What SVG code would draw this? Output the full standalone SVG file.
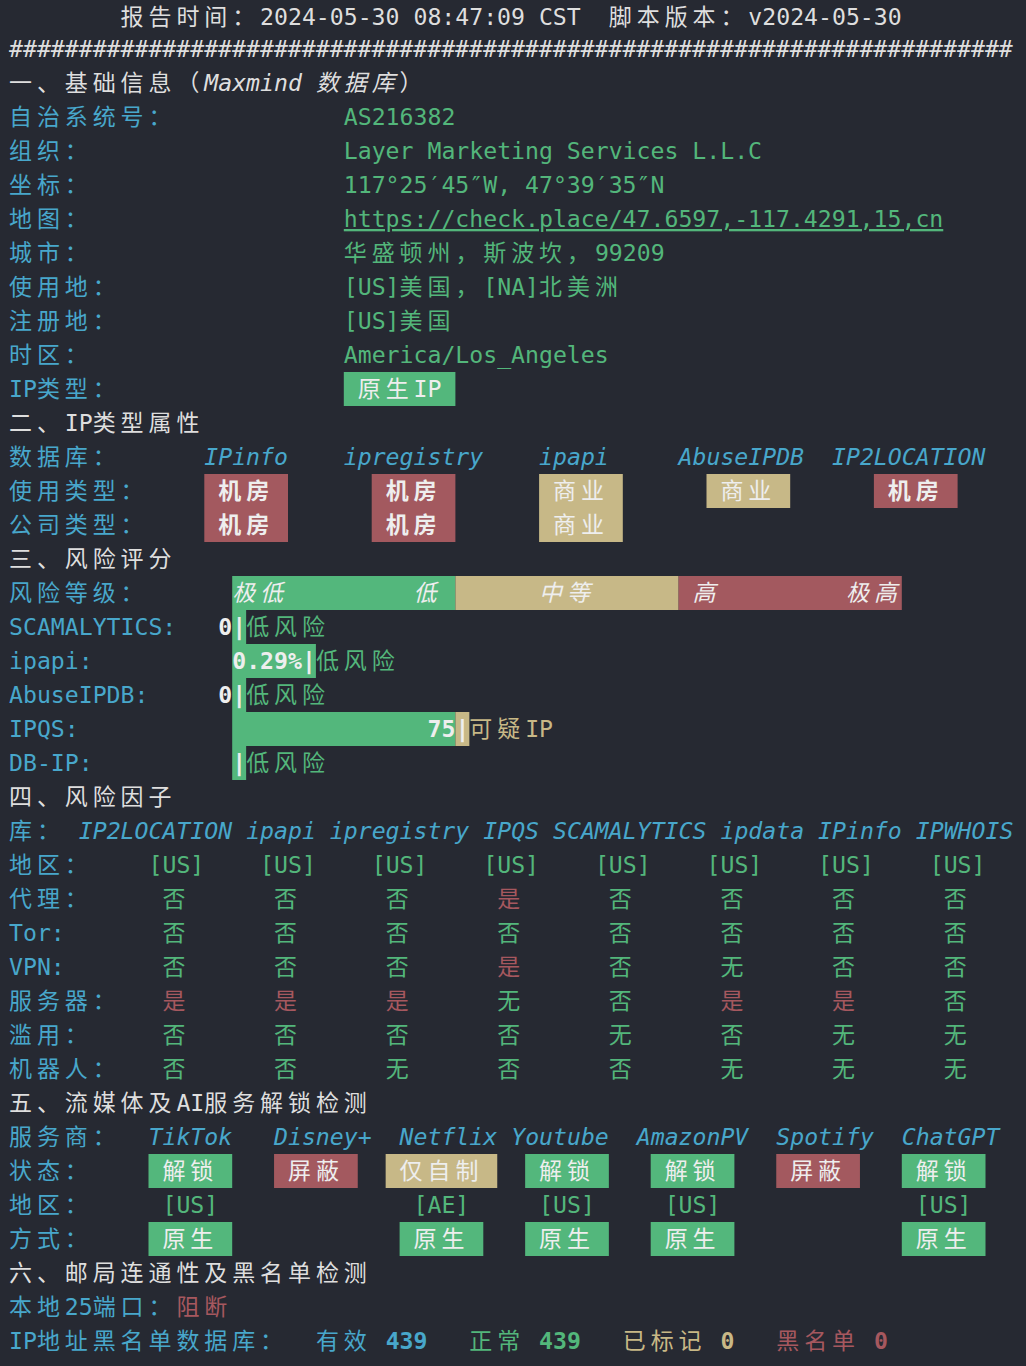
<svg xmlns="http://www.w3.org/2000/svg" width="1026" height="1366" viewBox="0 0 1026 1366">
<style>
.L{font-family:"DejaVu Sans Mono","Liberation Mono",monospace;font-size:23.17px}
.C{font-family:"Noto Sans CJK SC","Noto Sans",sans-serif;font-size:23px;letter-spacing:4.9px}
.i{font-style:italic}
.b{font-weight:bold}
.w{fill:#dedede}
.cy{fill:#48a7cb}
.g{fill:#53b67b}
.r{fill:#a6585f}
.y{fill:#c8b886}
.bt{fill:#eeeeee}
.bg{fill:#53b77c}
.br{fill:#a3595f}
.by{fill:#c7b887}
</style>
<rect width="1026" height="1366" fill="#262932"/>

<g id="header">
<text class="w" y="25"><tspan class="C" x="120.6">报告时间：</tspan><tspan class="L" x="260.1">2024-05-30 08:47:09 CST</tspan><tspan class="C" x="608.85">脚本版本：</tspan><tspan class="L" x="748.35">v2024-05-30</tspan></text>
<text class="L w" x="9" y="57">########################################################################</text>
</g>

<g id="basic">
<text class="w" y="91"><tspan class="C" x="9">一、基础信息（</tspan><tspan class="L i" x="204.3">Maxmind</tspan><tspan class="C i" x="315.9">数据库</tspan><tspan class="C" x="399.6">）</tspan></text>
<text class="C cy" x="9" y="125">自治系统号：</text>
<text class="L g" x="343.8" y="125">AS216382</text>
<text class="C cy" x="9" y="159">组织：</text>
<text class="L g" x="343.8" y="159">Layer Marketing Services L.L.C</text>
<text class="C cy" x="9" y="193">坐标：</text>
<text class="L g" x="343.8" y="193">117°25′45″W, 47°39′35″N</text>
<text class="C cy" x="9" y="227">地图：</text>
<text class="L g" x="343.8" y="227" text-decoration="underline">https://check.place/47.6597,-117.4291,15,cn</text>
<text class="C cy" x="9" y="261">城市：</text>
<text class="g" y="261"><tspan class="C" x="343.8">华盛顿州，斯波坎，</tspan><tspan class="L" x="594.9">99209</tspan></text>
<text class="C cy" x="9" y="295">使用地：</text>
<text class="g" y="295"><tspan class="L" x="343.8">[US]</tspan><tspan class="C" x="399.6">美国，</tspan><tspan class="L" x="483.3">[NA]</tspan><tspan class="C" x="539.1">北美洲</tspan></text>
<text class="C cy" x="9" y="329">注册地：</text>
<text class="g" y="329"><tspan class="L" x="343.8">[US]</tspan><tspan class="C" x="399.6">美国</tspan></text>
<text class="C cy" x="9" y="363">时区：</text>
<text class="L g" x="343.8" y="363">America/Los_Angeles</text>
<text class="cy" y="397"><tspan class="L" x="9">IP</tspan><tspan class="C" x="36.9">类型：</tspan></text>
<rect class="bg" x="343.8" y="372" width="111.6" height="34"/>
<text class="bt" y="397"><tspan class="C" x="357.75">原生</tspan><tspan class="L" x="413.55">IP</tspan></text>
</g>

<g id="iptype">
<text class="w" y="431"><tspan class="C" x="9">二、</tspan><tspan class="L" x="64.8">IP</tspan><tspan class="C" x="92.7">类型属性</tspan></text>
<text class="C cy" x="9" y="465">数据库：</text>
<text class="L i cy" x="204.3" y="465">IPinfo</text>
<text class="L i cy" x="343.8" y="465">ipregistry</text>
<text class="L i cy" x="539.1" y="465">ipapi</text>
<text class="L i cy" x="678.6" y="465">AbuseIPDB</text>
<text class="L i cy" x="832.05" y="465">IP2LOCATION</text>
<text class="C cy" x="9" y="499">使用类型：</text>
<rect class="br" x="204.3" y="474" width="83.7" height="34"/>
<rect class="br" x="371.7" y="474" width="83.7" height="34"/>
<rect class="by" x="539.1" y="474" width="83.7" height="34"/>
<rect class="by" x="706.5" y="474" width="83.7" height="34"/>
<rect class="br" x="873.9" y="474" width="83.7" height="34"/>
<text class="C b bt" x="218.25" y="499">机房</text>
<text class="C b bt" x="385.65" y="499">机房</text>
<text class="C bt" x="553.05" y="499">商业</text>
<text class="C bt" x="720.45" y="499">商业</text>
<text class="C b bt" x="887.85" y="499">机房</text>
<text class="C cy" x="9" y="533">公司类型：</text>
<rect class="br" x="204.3" y="508" width="83.7" height="34"/>
<rect class="br" x="371.7" y="508" width="83.7" height="34"/>
<rect class="by" x="539.1" y="508" width="83.7" height="34"/>
<text class="C b bt" x="218.25" y="533">机房</text>
<text class="C b bt" x="385.65" y="533">机房</text>
<text class="C bt" x="553.05" y="533">商业</text>
</g>

<g id="risk">
<text class="C w" x="9" y="567">三、风险评分</text>
<text class="C cy" x="9" y="601">风险等级：</text>
<rect class="bg" x="232.2" y="576" width="223.2" height="34"/>
<rect class="by" x="455.4" y="576" width="223.2" height="34"/>
<rect class="br" x="678.6" y="576" width="223.2" height="34"/>
<text class="C i bt" x="232.2" y="601">极低</text>
<text class="C i bt" x="413.55" y="601">低</text>
<text class="C i bt" x="539.1" y="601">中等</text>
<text class="C i bt" x="692.55" y="601">高</text>
<text class="C i bt" x="846" y="601">极高</text>

<text class="L cy" x="9" y="635">SCAMALYTICS:</text>
<rect class="bg" x="232.2" y="610" width="13.95" height="34"/>
<text class="L b bt" x="218.25" y="635">0|</text>
<text class="C g" x="246.15" y="635">低风险</text>

<text class="L cy" x="9" y="669">ipapi:</text>
<rect class="bg" x="232.2" y="644" width="83.7" height="34"/>
<text class="L b bt" x="232.2" y="669">0.29%|</text>
<text class="C g" x="315.9" y="669">低风险</text>

<text class="L cy" x="9" y="703">AbuseIPDB:</text>
<rect class="bg" x="232.2" y="678" width="13.95" height="34"/>
<text class="L b bt" x="218.25" y="703">0|</text>
<text class="C g" x="246.15" y="703">低风险</text>

<text class="L cy" x="9" y="737">IPQS:</text>
<rect class="bg" x="232.2" y="712" width="223.2" height="34"/>
<rect class="by" x="455.4" y="712" width="13.95" height="34"/>
<text class="L b bt" x="427.5" y="737">75|</text>
<text class="y" y="737"><tspan class="C" x="469.35">可疑</tspan><tspan class="L" x="525.15">IP</tspan></text>

<text class="L cy" x="9" y="771">DB-IP:</text>
<rect class="bg" x="232.2" y="746" width="13.95" height="34"/>
<text class="L b bt" x="232.2" y="771">|</text>
<text class="C g" x="246.15" y="771">低风险</text>
</g>

<g id="factors">
<text class="C w" x="9" y="805">四、风险因子</text>
<text class="C cy" x="9" y="839">库：</text>
<text class="L i cy" x="78.75" y="839">IP2LOCATION</text>
<text class="L i cy" x="246.15" y="839">ipapi</text>
<text class="L i cy" x="329.85" y="839">ipregistry</text>
<text class="L i cy" x="483.3" y="839">IPQS</text>
<text class="L i cy" x="553.05" y="839">SCAMALYTICS</text>
<text class="L i cy" x="720.45" y="839">ipdata</text>
<text class="L i cy" x="818.1" y="839">IPinfo</text>
<text class="L i cy" x="915.75" y="839">IPWHOIS</text>

<text class="C cy" x="9" y="873">地区：</text>
<text class="L g" y="873"><tspan x="148.5">[US]</tspan><tspan x="260.1">[US]</tspan><tspan x="371.7">[US]</tspan><tspan x="483.3">[US]</tspan><tspan x="594.9">[US]</tspan><tspan x="706.5">[US]</tspan><tspan x="818.1">[US]</tspan><tspan x="929.7">[US]</tspan></text>

<text class="C cy" x="9" y="907">代理：</text>
<text class="C" y="907"><tspan class="g" x="162.45">否</tspan><tspan class="g" x="274.05">否</tspan><tspan class="g" x="385.65">否</tspan><tspan class="r" x="497.25">是</tspan><tspan class="g" x="608.85">否</tspan><tspan class="g" x="720.45">否</tspan><tspan class="g" x="832.05">否</tspan><tspan class="g" x="943.65">否</tspan></text>

<text class="L cy" x="9" y="941">Tor:</text>
<text class="C" y="941"><tspan class="g" x="162.45">否</tspan><tspan class="g" x="274.05">否</tspan><tspan class="g" x="385.65">否</tspan><tspan class="g" x="497.25">否</tspan><tspan class="g" x="608.85">否</tspan><tspan class="g" x="720.45">否</tspan><tspan class="g" x="832.05">否</tspan><tspan class="g" x="943.65">否</tspan></text>

<text class="L cy" x="9" y="975">VPN:</text>
<text class="C" y="975"><tspan class="g" x="162.45">否</tspan><tspan class="g" x="274.05">否</tspan><tspan class="g" x="385.65">否</tspan><tspan class="r" x="497.25">是</tspan><tspan class="g" x="608.85">否</tspan><tspan class="g" x="720.45">无</tspan><tspan class="g" x="832.05">否</tspan><tspan class="g" x="943.65">否</tspan></text>

<text class="C cy" x="9" y="1009">服务器：</text>
<text class="C" y="1009"><tspan class="r" x="162.45">是</tspan><tspan class="r" x="274.05">是</tspan><tspan class="r" x="385.65">是</tspan><tspan class="g" x="497.25">无</tspan><tspan class="g" x="608.85">否</tspan><tspan class="r" x="720.45">是</tspan><tspan class="r" x="832.05">是</tspan><tspan class="g" x="943.65">否</tspan></text>

<text class="C cy" x="9" y="1043">滥用：</text>
<text class="C" y="1043"><tspan class="g" x="162.45">否</tspan><tspan class="g" x="274.05">否</tspan><tspan class="g" x="385.65">否</tspan><tspan class="g" x="497.25">否</tspan><tspan class="g" x="608.85">无</tspan><tspan class="g" x="720.45">否</tspan><tspan class="g" x="832.05">无</tspan><tspan class="g" x="943.65">无</tspan></text>

<text class="C cy" x="9" y="1077">机器人：</text>
<text class="C" y="1077"><tspan class="g" x="162.45">否</tspan><tspan class="g" x="274.05">否</tspan><tspan class="g" x="385.65">无</tspan><tspan class="g" x="497.25">否</tspan><tspan class="g" x="608.85">否</tspan><tspan class="g" x="720.45">无</tspan><tspan class="g" x="832.05">无</tspan><tspan class="g" x="943.65">无</tspan></text>
</g>

<g id="media">
<text class="w" y="1111"><tspan class="C" x="9">五、流媒体及</tspan><tspan class="L" x="176.4">AI</tspan><tspan class="C" x="204.3">服务解锁检测</tspan></text>
<text class="C cy" x="9" y="1145">服务商：</text>
<text class="L i cy" x="148.5" y="1145">TikTok</text>
<text class="L i cy" x="274.05" y="1145">Disney+</text>
<text class="L i cy" x="399.6" y="1145">Netflix</text>
<text class="L i cy" x="511.2" y="1145">Youtube</text>
<text class="L i cy" x="636.75" y="1145">AmazonPV</text>
<text class="L i cy" x="776.25" y="1145">Spotify</text>
<text class="L i cy" x="901.8" y="1145">ChatGPT</text>

<text class="C cy" x="9" y="1179">状态：</text>
<rect class="bg" x="148.5" y="1154" width="83.7" height="34"/>
<rect class="br" x="274.05" y="1154" width="83.7" height="34"/>
<rect class="by" x="385.65" y="1154" width="111.6" height="34"/>
<rect class="bg" x="525.15" y="1154" width="83.7" height="34"/>
<rect class="bg" x="650.7" y="1154" width="83.7" height="34"/>
<rect class="br" x="776.25" y="1154" width="83.7" height="34"/>
<rect class="bg" x="901.8" y="1154" width="83.7" height="34"/>
<text class="C bt" y="1179"><tspan x="162.45">解锁</tspan><tspan x="288">屏蔽</tspan><tspan x="399.6">仅自制</tspan><tspan x="539.1">解锁</tspan><tspan x="664.65">解锁</tspan><tspan x="790.2">屏蔽</tspan><tspan x="915.75">解锁</tspan></text>

<text class="C cy" x="9" y="1213">地区：</text>
<text class="L g" y="1213"><tspan x="162.45">[US]</tspan><tspan x="413.55">[AE]</tspan><tspan x="539.1">[US]</tspan><tspan x="664.65">[US]</tspan><tspan x="915.75">[US]</tspan></text>

<text class="C cy" x="9" y="1247">方式：</text>
<rect class="bg" x="148.5" y="1222" width="83.7" height="34"/>
<rect class="bg" x="399.6" y="1222" width="83.7" height="34"/>
<rect class="bg" x="525.15" y="1222" width="83.7" height="34"/>
<rect class="bg" x="650.7" y="1222" width="83.7" height="34"/>
<rect class="bg" x="901.8" y="1222" width="83.7" height="34"/>
<text class="C bt" y="1247"><tspan x="162.45">原生</tspan><tspan x="413.55">原生</tspan><tspan x="539.1">原生</tspan><tspan x="664.65">原生</tspan><tspan x="915.75">原生</tspan></text>
</g>

<g id="mail">
<text class="C w" x="9" y="1281">六、邮局连通性及黑名单检测</text>
<text class="cy" y="1315"><tspan class="C" x="9">本地</tspan><tspan class="L" x="64.8">25</tspan><tspan class="C" x="92.7">端口：</tspan></text>
<text class="C r" x="176.4" y="1315">阻断</text>
<text y="1349"><tspan class="L cy" x="9">IP</tspan><tspan class="C cy" x="36.9">地址黑名单数据库：</tspan><tspan class="C cy" x="315.9">有效</tspan><tspan class="L b cy" x="385.65">439</tspan><tspan class="C g" x="469.35">正常</tspan><tspan class="L b g" x="539.1">439</tspan><tspan class="C y" x="622.8">已标记</tspan><tspan class="L b y" x="720.45">0</tspan><tspan class="C r" x="776.25">黑名单</tspan><tspan class="L b r" x="873.9">0</tspan></text>
</g>
<g id="connectors"/>
</svg>
